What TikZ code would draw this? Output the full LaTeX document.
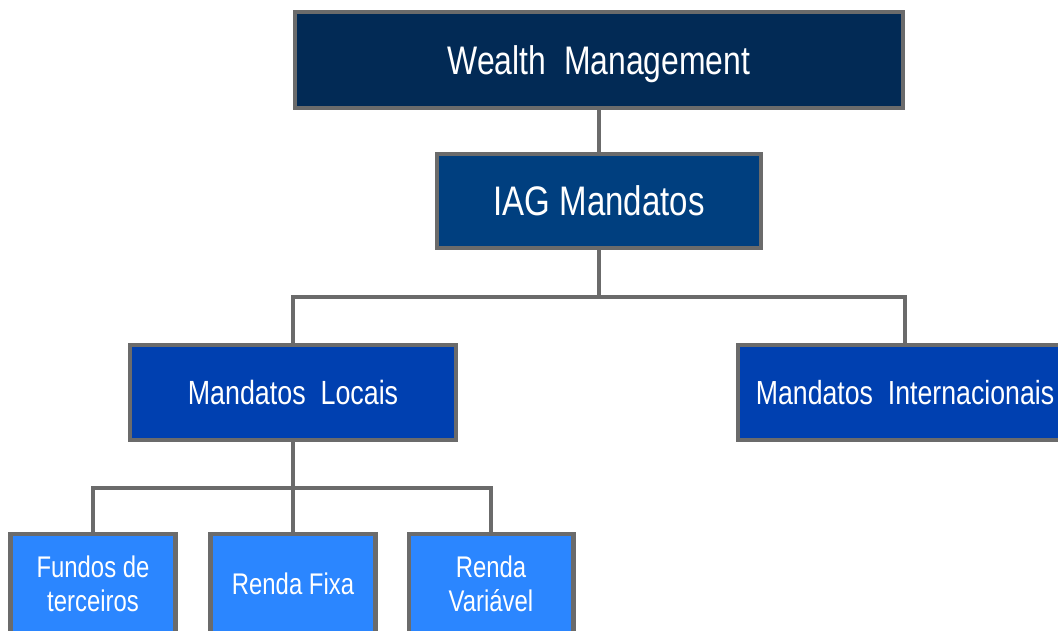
\documentclass[tikz,border=0pt]{standalone}
\usepackage{fontspec}
\setmainfont{Liberation Sans}[FakeStretch=0.8]
\definecolor{wmblue}{HTML}{022A55}
\definecolor{iagblue}{HTML}{003F7F}
\definecolor{midblue}{HTML}{0040B0}
\definecolor{leafblue}{HTML}{2B86FF}
\definecolor{edgegray}{HTML}{6B6B6B}
\tikzset{
  orgbox/.style={draw=edgegray, line width=2.3pt, text=white, inner sep=0pt, align=center},
  orglink/.style={draw=edgegray, line width=2pt}
}

\begin{document}
\begin{tikzpicture}[x=0.02cm, y=0.02cm]
		%%%%% START %%%%%
		\useasboundingbox (0, 0) rectangle (1058, 630);
		\clip (0, 0) rectangle (1058, 630);
		
		\node[orgbox, fill=wmblue, minimum width=12.18cm, minimum height=1.92cm, text depth=0pt, font=\fontsize{22.7}{27}\selectfont] (wealth) at (599, 570) {Wealth\ \ Management};
		\node[orgbox, fill=iagblue, minimum width=6.48cm, minimum height=1.88cm, text depth=0pt, font=\fontsize{23.5}{28}\selectfont] (iag) at (599, 429) {IAG Mandatos};
		
		\node[orgbox, fill=midblue, minimum width=6.52cm, minimum height=1.90cm, text depth=0pt, font=\fontsize{19.1}{23}\selectfont] (locais) at (293, 237.5) {Mandatos\ \ Locais};
		\node[orgbox, fill=midblue, minimum width=6.68cm, minimum height=1.90cm, text depth=0pt, font=\fontsize{19}{23}\selectfont] (intl) at (905, 237.5) {Mandatos\ \ Internacionais};
		
		\node[orgbox, fill=leafblue, minimum width=3.30cm, minimum height=2.0cm, font=\fontsize{17}{19.5}\selectfont] (fundos) at (93, 46) {Fundos de\\terceiros};
		\node[orgbox, fill=leafblue, minimum width=3.30cm, minimum height=2.0cm, text depth=0pt, font=\fontsize{17}{19.5}\selectfont] (fixa) at (293, 46) {Renda Fixa};
		\node[orgbox, fill=leafblue, minimum width=3.30cm, minimum height=2.0cm, font=\fontsize{17}{19.5}\selectfont] (variavel) at (491, 46) {Renda\\Variável};
		
		\coordinate (split1) at (599, 333);
		\coordinate (split2) at (293, 142);
		
		\draw[orglink] (wealth.south) -- (iag.north);
		\draw[orglink] (iag.south) -- (split1);
		\draw[orglink] (locais.north) |- (split1) -| (intl.north);
		
		\draw[orglink] (locais.south) -- (fixa.north);
		\draw[orglink] (fundos.north) |- (split2) -| (variavel.north);
		
		%%%%% END %%%%%
	\end{tikzpicture}
\end{document}
